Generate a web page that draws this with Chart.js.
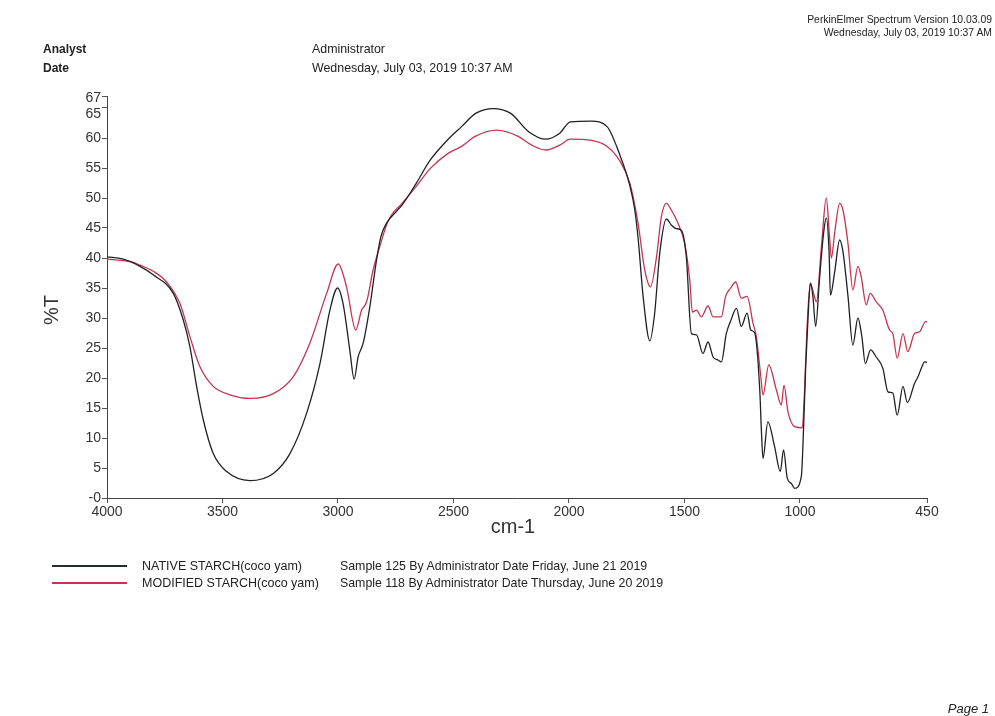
<!DOCTYPE html>
<html>
<head>
<meta charset="utf-8">
<script src="https://cdn.jsdelivr.net/npm/chart.js@4"></script>
<style>
  body { margin: 0; background: #fff; font-family: "Liberation Sans", Arial, sans-serif; color: #222; }
  #wrap { position: relative; width: 995px; height: 716px; overflow: hidden; }
  canvas { position: absolute; left: 0; top: 0; }
  .t { position: absolute; white-space: nowrap; }
  .leg { position: absolute; left: 52px; width: 75px; height: 0; border-top: 2px solid; }
</style>
</head>
<body>
<div id="wrap">
  <canvas id="chart" width="995" height="716"></canvas>

  <div class="t" style="right:3px; top:13px; font-size:10.4px; line-height:13px; text-align:right">PerkinElmer Spectrum Version 10.03.09<br>Wednesday, July 03, 2019 10:37 AM</div>
  <div class="t" style="left:43px; top:40px; font-size:12px; line-height:19px; font-weight:bold">Analyst<br>Date</div>
  <div class="t" style="left:312px; top:40px; font-size:12.4px; line-height:19px">Administrator<br>Wednesday, July 03, 2019 10:37 AM</div>

  <div class="leg" style="top:565px; border-color:#2a2d33"></div>
  <div class="leg" style="top:582px; border-color:#c8344f"></div>
  <div class="t" style="left:142px; top:558px; font-size:12.5px; line-height:17px">NATIVE STARCH(coco yam)<br>MODIFIED STARCH(coco yam)</div>
  <div class="t" style="left:340px; top:558px; font-size:12.35px; line-height:17px">Sample 125 By Administrator Date Friday, June 21 2019<br>Sample 118 By Administrator Date Thursday, June 20 2019</div>

  <div class="t" style="right:6px; top:701px; font-size:13px; font-style:italic">Page 1</div>
</div>
<script>
const FONT = '"Liberation Sans", Arial, sans-serif';

// wavenumber ticks (cm-1) and %T ticks
const xTicks = [4000, 3500, 3000, 2500, 2000, 1500, 1000, 450];
const yTicks = [0, 5, 10, 15, 20, 25, 30, 35, 40, 45, 50, 55, 60, 65, 67];

// NATIVE STARCH(coco yam)
const nativeWn = [4000, 3930, 3857, 3800, 3713, 3670, 3641, 3612, 3583, 3540, 3482, 3381, 3280, 3208,
  3136, 3078, 3035, 3002, 2978, 2949, 2930, 2913, 2891, 2862, 2833, 2814, 2790, 2768, 2723, 2662,
  2601, 2525, 2465, 2404, 2328, 2252, 2176, 2100, 2040, 1994, 1903, 1835, 1782, 1736, 1715, 1700,
  1679, 1650, 1629, 1607, 1578, 1557, 1535, 1513, 1492, 1470, 1448, 1420, 1398, 1376, 1355, 1340,
  1319, 1300, 1275, 1254, 1229, 1213, 1196, 1174, 1167, 1160, 1139, 1110, 1085, 1071, 1055, 1037,
  1023, 994, 984, 975, 965, 955, 944, 932, 915, 897, 886, 874, 868, 850, 828, 814, 792,
  771, 749, 732, 717, 694, 670, 641, 619, 598, 579, 554, 535, 504, 489, 475, 460, 450];
const nativeT = [40.2, 39.8, 38.6, 37.2, 34.1, 29.7, 25.2, 18.6, 13, 7.4, 4.4, 2.9, 4.1, 7.4,
  14.1, 22.4, 31.3, 35, 32.4, 24.7, 19.8, 23.5, 25.8, 31.9, 39.7, 43.6, 45.8, 46.9, 48.8, 52.4,
  56.3, 59.7, 61.9, 64.1, 64.9, 64.1, 61.1, 59.8, 60.8, 62.7, 62.8, 61.9, 57.4, 52, 48, 43,
  33.6, 26.2, 30.8, 40.8, 46.5, 45.5, 44.9, 44.6, 40.2, 27.4, 27.2, 24.1, 26, 23.5, 23, 22.7,
  27.4, 29.5, 31.6, 28.6, 30.8, 28, 27.5, 18, 11.3, 6.6, 12.7, 8.6, 4.4, 8, 3.3, 2.4,
  1.6, 3.6, 12, 22, 30, 35.8, 33.6, 28.6, 36.7, 44.4, 46.7, 41.1, 33.8, 37.6, 43, 41.1, 33.6,
  25.5, 30, 26.9, 22.4, 24.7, 23.5, 21.6, 17.7, 17.5, 13.8, 18.6, 15.9, 19.1, 20.2, 21.6, 22.7, 22.6];

// MODIFIED STARCH(coco yam)
const modifiedWn = [4000, 3891, 3857, 3800, 3742, 3684, 3641, 3598, 3540, 3468, 3381, 3280, 3194,
  3122, 3049, 2999, 2963, 2923, 2898, 2876, 2848, 2819, 2790, 2768, 2723, 2662, 2601, 2525, 2465,
  2404, 2313, 2222, 2161, 2100, 2040, 1994, 1903, 1835, 1782, 1736, 1701, 1672, 1647, 1621, 1600,
  1578, 1557, 1528, 1499, 1477, 1466, 1448, 1427, 1398, 1376, 1340, 1322, 1300, 1278, 1254, 1229,
  1203, 1189, 1171, 1160, 1135, 1102, 1081, 1069, 1052, 1023, 990, 980, 970, 955, 941, 929,
  907, 886, 872, 864, 850, 828, 814, 792, 771, 749, 735, 713, 696, 670, 641, 612, 598, 579,
  554, 533, 504, 482, 456, 450];
const modifiedT = [39.8, 39.3, 38.8, 37.8, 36, 32.4, 26.9, 21.9, 18.6, 17.2, 16.6, 17.4, 20.2,
  25.8, 34.1, 39, 35.2, 28, 31.3, 32.7, 38, 41.9, 45.5, 47.2, 49.1, 51.9, 54.9, 57.4, 58.6,
  60.3, 61.3, 60.3, 58.8, 58, 58.8, 59.8, 59.6, 58.6, 56.3, 52.4, 45.8, 38, 35.2, 40.2, 46.9,
  49.1, 48, 45.8, 42.4, 36.3, 31, 31.3, 30.2, 32, 30.2, 30.2, 33.6, 35, 36, 33.3, 33.6,
  29.1, 26.9, 20.8, 17.2, 22.2, 18, 15.5, 18.8, 14.4, 11.9, 11.7, 18, 28, 35.8, 34.1, 32.7,
  41.9, 50, 43.6, 40, 44.1, 49.1, 48, 42.4, 34.7, 38.6, 36.9, 32.2, 34.1, 32.7, 31.3, 28, 27.4, 23.3,
  27.4, 24.4, 27.4, 27.7, 29.4, 29.4];

const toPoints = (xs, ys) => xs.map((x, i) => ({ x: x, y: ys[i] }));

// axis titles and the crowded 65/67 labels
const extraText = {
  id: "extraText",
  afterDraw: (chart) => {
    const c = chart.ctx;
    const y = chart.scales.y;
    c.save();
    c.fillStyle = "#333";
    c.font = "14px " + FONT;
    c.textAlign = "right";
    c.textBaseline = "middle";
    c.fillText("67", 101, y.getPixelForValue(67) + 2);
    c.fillText("65", 101, y.getPixelForValue(65) + 6);
    c.font = "20px " + FONT;
    c.textAlign = "center";
    c.fillText("cm-1", 513, 527);
    c.translate(52, 310);
    c.rotate(-Math.PI / 2);
    c.fillText("%T", 0, 0);
    c.restore();
  }
};

const chart = new Chart(document.getElementById("chart").getContext("2d"), {
  type: "line",
  data: {
    datasets: [
      {
        label: "NATIVE STARCH(coco yam)",
        data: toPoints(nativeWn, nativeT),
        borderColor: "#1f2126",
        borderWidth: 1.3,
        pointRadius: 0,
        cubicInterpolationMode: "monotone",
        fill: false
      },
      {
        label: "MODIFIED STARCH(coco yam)",
        data: toPoints(modifiedWn, modifiedT),
        borderColor: "#c8344f",
        borderWidth: 1.3,
        pointRadius: 0,
        cubicInterpolationMode: "monotone",
        fill: false
      }
    ]
  },
  options: {
    responsive: false,
    animation: false,
    layout: { padding: { left: 0, top: 96, right: 68, bottom: 188 } },
    plugins: { legend: { display: false }, tooltip: { enabled: false } },
    scales: {
      x: {
        type: "linear",
        reverse: true,
        min: 450,
        max: 4000,
        afterBuildTicks: (s) => { s.ticks = xTicks.map(v => ({ value: v })); },
        afterFit: (s) => { s.height = 30; },
        grid: { drawOnChartArea: false, tickLength: 5, color: "#555" },
        border: { color: "#444", width: 1 },
        ticks: {
          color: "#333",
          font: { family: FONT, size: 14 },
          padding: 1,
          maxRotation: 0,
          autoSkip: false,
          callback: (v) => String(v)
        }
      },
      y: {
        type: "linear",
        min: 0,
        max: 67,
        afterBuildTicks: (s) => { s.ticks = yTicks.map(v => ({ value: v })); },
        afterFit: (s) => { s.width = 107; },
        grid: { drawOnChartArea: false, tickLength: 5, color: "#555" },
        border: { color: "#444", width: 1 },
        ticks: {
          color: "#333",
          font: { family: FONT, size: 14 },
          padding: 1,
          autoSkip: false,
          callback: (v) => v === 0 ? "-0" : (v === 65 || v === 67) ? "" : String(v)
        }
      }
    }
  },
  plugins: [extraText]
});
</script>
</body>
</html>
